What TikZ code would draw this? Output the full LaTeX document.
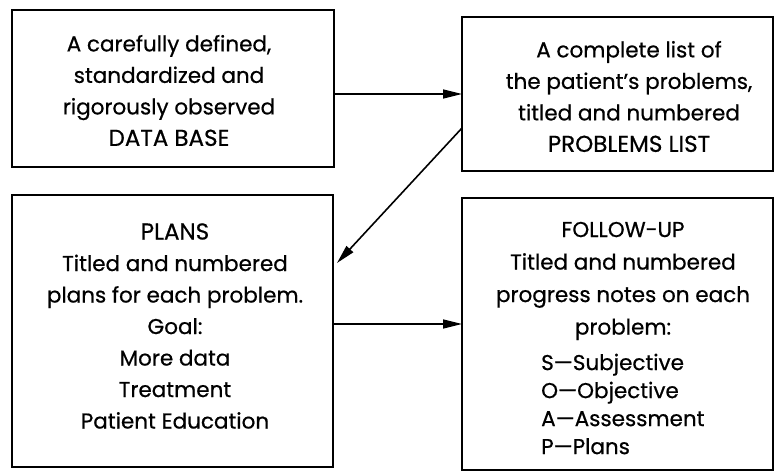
\documentclass[tikz,border=0pt]{standalone}
\usepackage{fontspec}
\setmainfont{Poppins}[FakeBold=0.6]
\usetikzlibrary{arrows.meta}
% capitals set a little larger, as in the heading lines
\newcommand{\capline}[1]{{\fontsize{23}{31.5}\selectfont #1}}
\begin{document}
\begin{tikzpicture}[x=1pt,y=1pt,
  box/.style={draw=black, line width=1.6pt, rectangle, inner sep=0pt, outer sep=0pt},
  txt/.style={align=center, inner sep=0pt, font=\fontsize{21.5}{31.5}\selectfont},
  soap/.style={align=left, inner sep=0pt, font=\fontsize{21.5}{28}\selectfont},
  arr/.style={line width=1.6pt, -{Triangle[length=19pt,width=9pt]}}]
  % page area
  \fill[white] (0,0) rectangle (775,472);
  \clip (0,0) rectangle (775,472);

  % frames
  \node[box, minimum width=322pt, minimum height=157pt] (tl) at (173,383.5) {};
  \node[box, minimum width=311pt, minimum height=154pt] (tr) at (617.5,378) {};
  \node[box, minimum width=321pt, minimum height=272pt] (bl) at (172.5,141) {};
  \node[box, minimum width=311pt, minimum height=272pt] (br) at (617.5,138) {};

  % texts
  \node[txt] (tltext) at (169,381.5) {A carefully defined,\\standardized and\\rigorously observed\\\capline{DATA BASE}};
  \node[txt] (trtext) at (629,375.5) {A complete list of\\the patient’s problems,\\titled and numbered\\\capline{PROBLEMS LIST}};
  \node[txt] (bltext) at (175,146) {\capline{PLANS}\\Titled and numbered\\plans for each problem.\\Goal:\\More data\\Treatment\\Patient Education};
  \node[txt, font=\fontsize{21.5}{32.5}\selectfont] (brtext) at (623,191) {FOLLOW-UP\\Titled and numbered\\progress notes on each\\problem:};
  \node[soap, anchor=west] (brsoap) at (541,68) {S—Subjective\\O—Objective\\A—Assessment\\P—Plans};

  % connectors
  \draw[arr] (tl.east |- 0,378) -- (tr.west |- 0,378);
  \coordinate (diagend) at ([xshift=4pt]bl.east |- 0,209);
  \draw[arr] (tr.west |- 0,344) -- (diagend);
  \draw[arr] (bl.east |- 0,148) -- (br.west |- 0,148);
\end{tikzpicture}
\end{document}
